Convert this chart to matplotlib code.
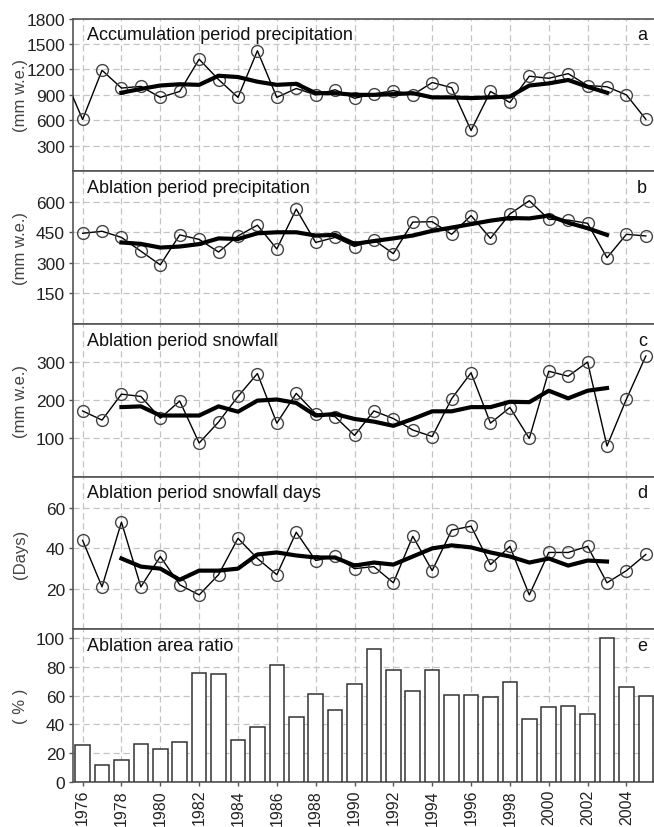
import numpy as np
import matplotlib
matplotlib.use("Agg")
import matplotlib.pyplot as plt

plt.rcParams['font.family'] = ['Liberation Sans', 'DejaVu Sans']

years = list(range(1976, 2006))
smooth_years = list(range(1978, 2004))

# a: accumulation period precipitation (first value is 1975, cut off by the axis)
acc_years = [1975] + years
acc_prec = [1140, 610, 1190, 980, 1000, 870, 940, 1320, 1080, 870, 1420,
            870, 975, 900, 960, 860, 910, 950, 900, 1045, 985,
            480, 940, 810, 1120, 1095, 1150, 1010, 995, 900, 612]
acc_smooth = [925, 970, 1010, 1025, 1018, 1125, 1110, 1055, 1018, 1030,
              920, 920, 900, 900, 908, 920, 870, 870, 862, 870,
              880, 1010, 1035, 1075, 995, 925]

# b: ablation period precipitation
abl_prec = [445, 455, 425, 357, 290, 437, 415, 353, 432, 485,
            368, 564, 400, 425, 380, 412, 345, 500, 502, 440,
            532, 420, 540, 605, 514, 510, 494, 325, 440, 432]
abl_prec_smooth = [400, 393, 375, 380, 392, 420, 417, 445, 450, 450,
                   434, 437, 393, 407, 420, 434, 457, 473, 490, 507,
                   520, 518, 532, 497, 470, 437]

# c: ablation period snowfall
abl_snow = [172, 148, 216, 210, 153, 198, 88, 143, 210, 270,
            140, 218, 165, 157, 108, 172, 152, 122, 105, 204,
            272, 140, 181, 100, 276, 263, 300, 80, 203, 316]
abl_snow_smooth = [182, 184, 160, 160, 160, 184, 170, 199, 202, 193,
                   160, 164, 151, 144, 133, 151, 171, 171, 182, 182,
                   196, 195, 225, 205, 225, 232]

# d: ablation period snowfall days
snow_days = [44, 21, 53, 21, 36, 22, 17, 27, 45, 35,
             27, 48, 34, 36, 30, 31, 23, 46, 29, 49,
             51, 32, 41, 17, 38, 38, 41, 23, 29, 37]
snow_days_smooth = [35, 31, 30, 24.5, 29, 29, 30, 37, 38, 36.5,
                    35.5, 35.5, 31.5, 33, 32, 36, 40, 41.5, 40.5, 38,
                    36, 33, 35, 31.5, 34, 33.5]

# e: ablation area ratio
aar = [25.5, 11.5, 15.5, 26.5, 23, 28, 76, 75, 29, 38.5,
       81.5, 45, 61, 50, 68, 92, 78, 63, 78, 60.5,
       60.5, 59, 69.5, 44, 52, 53, 47.5, 100, 66, 60]

titles = ["Accumulation period precipitation", "Ablation period precipitation",
          "Ablation period snowfall", "Ablation period snowfall days",
          "Ablation area ratio"]
letters = ["a", "b", "c", "d", "e"]
ylabels = ["(mm w.e.)", "(mm w.e.)", "(mm w.e.)", "(Days)", "( % )"]
yticks = [[300, 600, 900, 1200, 1500, 1800], [150, 300, 450, 600],
          [100, 200, 300], [20, 40, 60], [0, 20, 40, 60, 80, 100]]
ylims = [(0, 1800), (0, 750), (0, 400), (0, 75.5), (0, 106)]
xticks = list(range(1976, 2005, 2))

fig, axes = plt.subplots(5, 1, sharex=True, figsize=(6.54, 8.28), dpi=100,
                         gridspec_kw=dict(hspace=0))
fig.subplots_adjust(left=72.7 / 654, right=1.0, top=1 - 19.5 / 828, bottom=1 - 783 / 828)

line_data = [(acc_years, acc_prec, acc_smooth),
             (years, abl_prec, abl_prec_smooth),
             (years, abl_snow, abl_snow_smooth),
             (years, snow_days, snow_days_smooth)]

for i, ax in enumerate(axes):
    if i < 4:
        xs, ys, sm = line_data[i]
        ax.plot(xs, ys, color='black', lw=1, marker='o', mfc='none',
                mec='#444444', ms=8.5, mew=1, zorder=3)
        ax.plot(smooth_years, sm, color='black', lw=3, zorder=4)
    else:
        ax.bar(years, aar, width=0.75, color='white', edgecolor='#333333',
               lw=1.1, zorder=3)

    ax.set_ylim(*ylims[i])
    ax.set_yticks(yticks[i])
    ax.set_xlim(1975.49, 2005.42)
    ax.set_xticks(xticks)
    ax.set_axisbelow(True)
    ax.grid(True, ls=(0, (5, 3)), color='#c4c4c4', lw=0.9)

    for side in ['left', 'top', 'bottom']:
        ax.spines[side].set_color('#555555')
        ax.spines[side].set_linewidth(1.2)
    ax.spines['right'].set_visible(False)

    ax.tick_params(axis='y', direction='out', length=3, width=1, color='#555555',
                   labelsize=12.5, pad=2.5, labelcolor='#222222')
    if i < 4:
        ax.tick_params(axis='x', length=0)
    else:
        ax.tick_params(axis='x', direction='out', length=3, width=1, color='#555555',
                       labelsize=11.5, pad=2, labelcolor='#222222', labelrotation=90)

    ax.text(0.025, 0.95, titles[i], transform=ax.transAxes, ha='left', va='top',
            fontsize=13, color='#111111')
    ax.text(0.988, 0.95, letters[i], transform=ax.transAxes, ha='right', va='top',
            fontsize=13, color='#111111')
    ax.set_ylabel(ylabels[i], fontsize=12, color='#444444')
    ax.yaxis.set_label_coords(-0.077, 0.5)

fig.savefig("out.png", dpi=100)
